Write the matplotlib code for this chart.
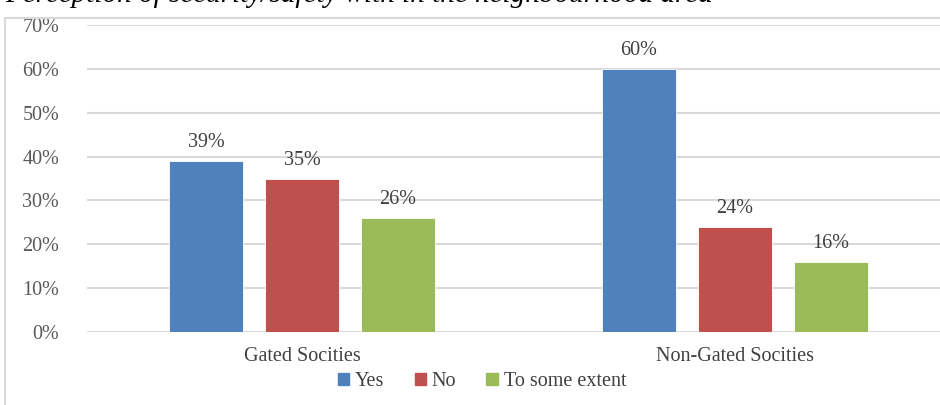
import matplotlib.pyplot as plt
import matplotlib.patches as mpatches
import numpy as np

plt.rcParams['font.family'] = ['Liberation Serif', 'DejaVu Serif']

categories = ["Gated Socities", "Non-Gated Socities"]
series = ["Yes", "No", "To some extent"]
yes_vals = [39, 60]
no_vals = [35, 24]
some_vals = [26, 16]
colors = ["#4F81BD", "#C0504D", "#9BBB59"]

fig = plt.figure(figsize=(9.4, 4.05), dpi=100)
W, H = 940.0, 405.0

# outer chart frame (cut off at right / bottom)
frame = mpatches.Rectangle((5/W, -0.1), 1.2, 1 - 18/H + 0.1, transform=fig.transFigure,
                           fill=False, edgecolor="#d9d9d9", lw=1.5, clip_on=False)
fig.patches.append(frame)

# clipped caption from the page above the chart
fig.text(5/W, 1 - 2/H, "Perception of security/safety with in the neighbourhood area",
         fontsize=21, style="italic", color="black", va="baseline", ha="left")

ax = fig.add_axes([87/W, 1 - 332/H, (W - 87)/W, (332 - 25)/H])
x = np.arange(len(categories))
step = 0.2217
bw = 0.171
for i, (vals, name) in enumerate(zip([yes_vals, no_vals, some_vals], series)):
    bars = ax.bar(x + (i - 1) * step, vals, bw, color=colors[i], label=name,
                  edgecolor="white", linewidth=0.6, zorder=3)
    for b, v in zip(bars, vals):
        ax.text(b.get_x() + b.get_width()/2, v + 2.0, f"{v}%", ha="center", va="bottom",
                fontsize=14.5, color="#404040")

ax.set_ylim(0, 70)
ax.set_xlim(-215/433, 1 + (W - 735) / 433)
ax.set_yticks(range(0, 71, 10))
ax.set_yticklabels([f"{t}%" for t in range(0, 71, 10)], fontsize=14.5, color="#595959")
ax.set_xticks(x)
ax.set_xticklabels(categories, fontsize=14.5, color="#404040")
ax.tick_params(axis="both", length=0)
ax.tick_params(axis="y", pad=20)
ax.tick_params(axis="x", pad=11)
ax.grid(axis="y", color="#d9d9d9", lw=1.5, zorder=0)
for s in ax.spines.values():
    s.set_visible(False)

handles = [mpatches.Patch(color=c) for c in colors]
fig.legend(handles, series, loc="center", bbox_to_anchor=(482/W, 1 - 382/H), ncol=3,
           frameon=False, fontsize=14.5, handlelength=0.55, handleheight=0.55,
           handletextpad=0.3, columnspacing=1.5, labelcolor="#404040")

fig.savefig("out.png", dpi=100)
